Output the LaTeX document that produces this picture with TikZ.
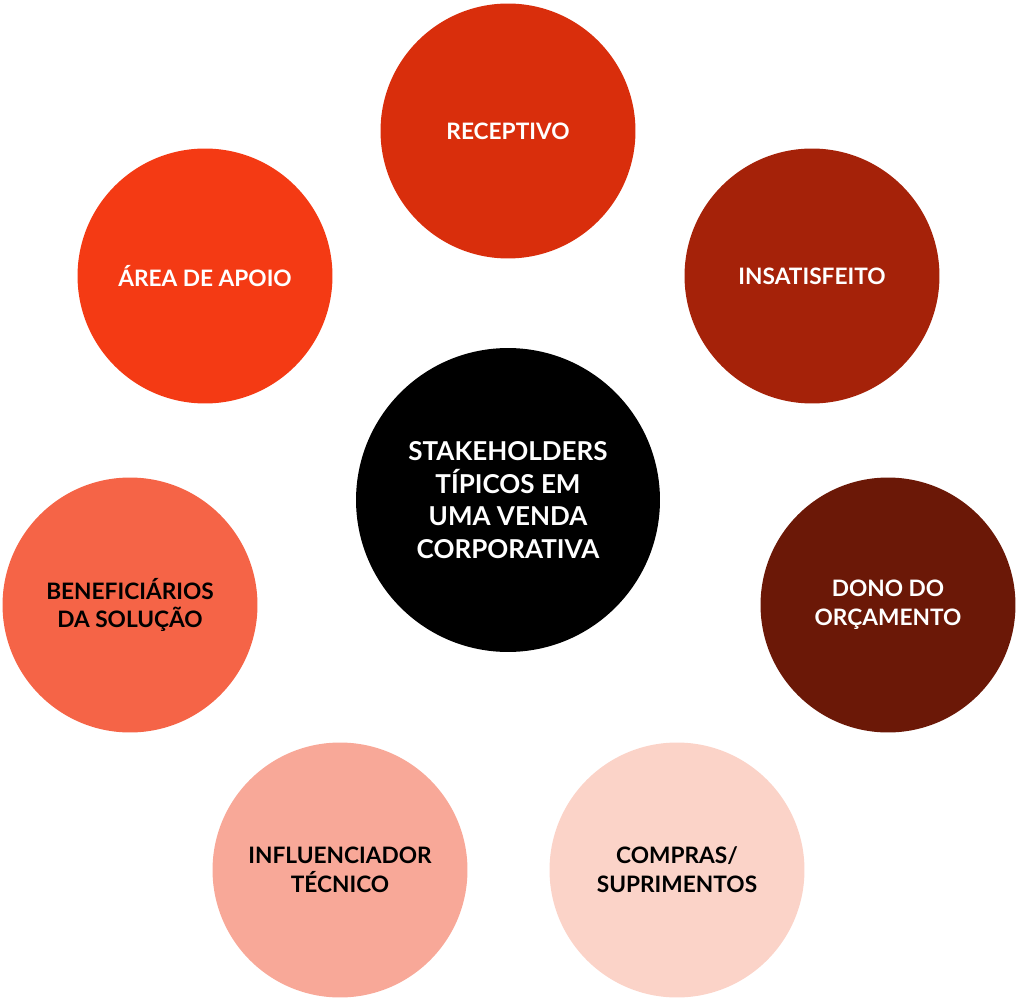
\documentclass[tikz,border=0pt]{standalone}
\usepackage{fontspec}
\setmainfont{Lato}
\definecolor{receptivo}{HTML}{D92E0C}
\definecolor{insatisfeito}{HTML}{A52209}
\definecolor{dono}{HTML}{6B1807}
\definecolor{compras}{HTML}{FBD3C8}
\definecolor{influenciador}{HTML}{F8A898}
\definecolor{beneficiarios}{HTML}{F56447}
\definecolor{apoio}{HTML}{F43A14}
\tikzset{
    hub/.style = {
        circle, fill=black, text=white,
        minimum size=6.08cm, inner sep=0pt,
        align=center, font=\bfseries\fontsize{14.8}{18.5}\selectfont
    },
    role/.style = {
        circle, minimum size=5.1cm, inner sep=0pt,
        align=center, font=\bfseries\fontsize{12.9}{16.4}\selectfont
    }
}

\begin{document}
\begin{tikzpicture}[x=0.02cm, y=-0.02cm]
\useasboundingbox (0,0) rectangle (1018,1000);

\node (hub) [hub] at (508,500) {STAKEHOLDERS\\TÍPICOS EM\\UMA VENDA\\CORPORATIVA};

\node (receptivo) [role, fill=receptivo, text=white] at (508,131) {RECEPTIVO};
\node (insatisfeito) [role, fill=insatisfeito, text=white] at (812,276) {INSATISFEITO};
\node (dono) [role, fill=dono, text=white] at (888,605) {DONO DO\\ORÇAMENTO};
\node (compras) [role, fill=compras, text=black] at (677,870) {COMPRAS/\\SUPRIMENTOS};
\node (influenciador) [role, fill=influenciador, text=black] at (340,870) {INFLUENCIADOR\\TÉCNICO};
\node (beneficiarios) [role, fill=beneficiarios, text=black] at (130,605) {BENEFICIÁRIOS\\DA SOLUÇÃO};
\node (apoio) [role, fill=apoio, text=white] at (205,276) {ÁREA DE APOIO};

\end{tikzpicture}
\end{document}
